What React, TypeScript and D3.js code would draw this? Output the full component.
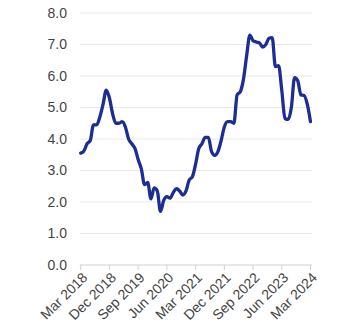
import React from "react";
import * as d3 from "d3";

const startDate = new Date(2018, 2, 1);
const values: number[] = [
  3.55, 3.62, 3.85, 3.95, 4.45, 4.45, 4.7, 5.1, 5.55, 5.3,
  4.8, 4.5, 4.5, 4.55, 4.38, 4.0, 3.85, 3.7, 3.35, 3.05,
  2.55, 2.62, 2.1, 2.45, 2.35, 1.7, 2.05, 2.17, 2.12, 2.3,
  2.42, 2.35, 2.22, 2.35, 2.7, 2.8, 3.2, 3.7, 3.85, 4.05,
  4.05, 3.6, 3.48, 3.6, 3.95, 4.38, 4.55, 4.55, 4.5, 5.4,
  5.5, 5.9, 6.65, 7.3, 7.12, 7.08, 7.05, 6.92, 7.0, 7.2,
  7.22, 6.3, 6.33, 5.55, 4.65, 4.62, 5.0, 5.95, 5.85, 5.4,
  5.38, 5.1, 4.55,
];
const yTicks: number[] = [0, 1, 2, 3, 4, 5, 6, 7, 8];
const xTickLabels: string[] = [
  "Mar 2018", "Dec 2018", "Sep 2019", "Jun 2020", "Mar 2021",
  "Dec 2021", "Sep 2022", "Jun 2023", "Mar 2024",
];

const W = 360;
const H = 335;
const left = 80.7;
const right = 310.5;
const top = 13;
const bottom = 265;

export default function App() {
  const data = values.map((v, i) => ({ m: i, v }));
  const x = d3.scaleLinear().domain([0, 72]).range([left, right]);
  const y = d3.scaleLinear().domain([0, 8]).range([bottom, top]);
  const line = d3
    .line<{ m: number; v: number }>()
    .x((d) => x(d.m))
    .y((d) => y(d.v))
    .curve(d3.curveMonotoneX);
  const tickMonths = xTickLabels.map((_, i) => i * 9);
  return (
    <svg
      width={W}
      height={H}
      style={{ position: "absolute", left: 0, top: 0, display: "block" }}
      fontFamily="'Liberation Sans', Arial, sans-serif"
    >
      {yTicks.map((t) => (
        <g key={t}>
          {t > 0 && (
            <line x1={left - 1} x2={312} y1={y(t)} y2={y(t)} stroke="#e9e9e9" strokeWidth={1} />
          )}
          <text
            x={67}
            y={y(t)}
            dy="0.35em"
            textAnchor="end"
            fontSize={14}
            fill="#444"
          >
            {t.toFixed(1)}
          </text>
        </g>
      ))}
      <line x1={left - 1} x2={312} y1={bottom} y2={bottom} stroke="#d0d0d0" strokeWidth={1} />
      {tickMonths.map((m, i) => (
        <g key={m} transform={`translate(${x(m)},${bottom})`}>
          <line y1={0} y2={5} stroke="#d0d0d0" strokeWidth={1} />
          <text
            transform="translate(4,10) rotate(-45)"
            textAnchor="end"
            dy="0.35em"
            fontSize={14}
            fill="#444"
          >
            {xTickLabels[i]}
          </text>
        </g>
      ))}
      <path
        d={line(data) || ""}
        fill="none"
        stroke="#1c2d94"
        strokeWidth={3.3}
        strokeLinejoin="round"
        strokeLinecap="round"
      />
    </svg>
  );
}
